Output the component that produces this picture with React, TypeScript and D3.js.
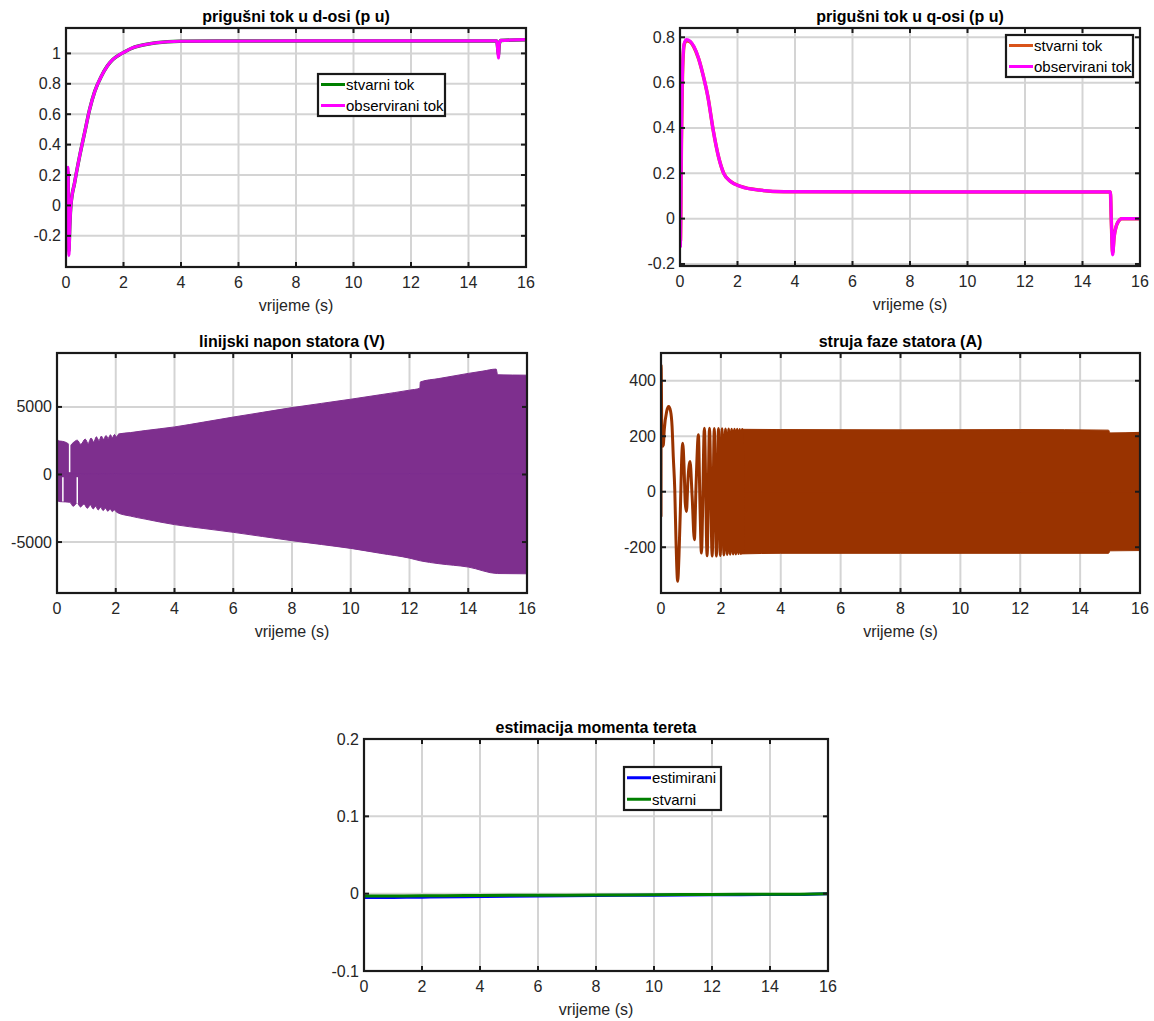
import React from "react";
import * as d3 from "d3";

// ---------- shared ----------
const xTickValues = [0, 2, 4, 6, 8, 10, 12, 14, 16];
const xLabelText = "vrijeme (s)";

// ---------- panel 1: d-axis damper flux ----------
const dFluxTime = [0, 0.03, 0.07, 0.1, 0.13, 0.17, 0.3, 0.47, 0.65, 0.82, 1.0, 1.23, 1.43, 1.63, 1.85, 2.04, 2.3, 2.56, 3.14, 3.95, 8, 14.98, 15.01, 15.04, 15.07, 15.12, 16];
const dFluxObserved = [0.0, -0.08, 0.25, -0.33, -0.15, 0.0, 0.15, 0.32, 0.48, 0.63, 0.75, 0.85, 0.915, 0.96, 0.99, 1.01, 1.035, 1.05, 1.07, 1.08, 1.082, 1.082, 1.04, 0.97, 1.06, 1.085, 1.09];
const dFluxActual = [0.0, -0.06, 0.22, -0.3, -0.14, 0.0, 0.15, 0.32, 0.48, 0.63, 0.75, 0.85, 0.915, 0.96, 0.99, 1.01, 1.035, 1.05, 1.07, 1.08, 1.082, 1.082, 1.05, 0.99, 1.06, 1.085, 1.09];
const dFluxTicks = [-0.2, 0, 0.2, 0.4, 0.6, 0.8, 1];

// ---------- panel 2: q-axis damper flux ----------
const qFluxTime = [0, 0.015, 0.05, 0.1, 0.15, 0.23, 0.35, 0.48, 0.64, 0.79, 0.97, 1.155, 1.34, 1.52, 1.77, 2.14, 2.76, 3.62, 8, 14.97, 15.0, 15.05, 15.1, 15.17, 15.25, 15.36, 16];
const qFluxObserved = [0, -0.12, 0.35, 0.7, 0.775, 0.79, 0.783, 0.76, 0.71, 0.64, 0.538, 0.39, 0.273, 0.2, 0.163, 0.141, 0.126, 0.119, 0.118, 0.118, 0.0, -0.16, -0.08, -0.035, -0.012, 0.0, 0.0];
const qFluxActual = [0, -0.1, 0.33, 0.69, 0.77, 0.785, 0.78, 0.758, 0.708, 0.64, 0.538, 0.39, 0.273, 0.2, 0.163, 0.141, 0.126, 0.119, 0.118, 0.118, 0.0, -0.15, -0.08, -0.035, -0.012, 0.0, 0.0];
const qFluxTicks = [-0.2, 0, 0.2, 0.4, 0.6, 0.8];

// ---------- panel 3: stator line voltage (envelope of a dense oscillation) ----------
const voltUpperTime = [0, 0.03, 0.12, 0.25, 0.38, 0.45, 0.56, 0.69, 0.81, 0.96, 1.06, 1.16, 1.25, 1.34, 1.43, 1.51, 1.58, 1.67, 1.74, 1.82, 1.88, 1.96, 2.02, 2.1, 2.5, 3, 4, 5, 6, 7, 8, 9, 10, 11, 12, 12.35, 12.37, 13, 14, 14.5, 14.95, 15.0, 16];
const voltUpper = [2950, 2500, 2470, 2420, 2280, 2150, 2380, 2540, 2230, 2620, 2300, 2700, 2400, 2790, 2500, 2840, 2600, 2890, 2670, 2940, 2720, 2960, 2780, 3000, 3100, 3250, 3520, 3880, 4250, 4600, 4950, 5260, 5570, 5900, 6240, 6380, 6850, 7100, 7480, 7650, 7800, 7380, 7350];
const voltLowerTime = [0, 0.02, 0.1, 0.3, 0.44, 0.55, 0.69, 0.8, 0.92, 1.03, 1.14, 1.23, 1.32, 1.4, 1.49, 1.57, 1.65, 1.73, 1.81, 1.88, 1.96, 2.03, 2.5, 3, 4, 5, 6, 7, 8, 9, 10, 11, 12, 12.37, 13, 14, 15, 16];
const voltLower = [-1200, -1940, -2010, -2030, -2060, -2354, -2109, -2403, -2183, -2501, -2256, -2550, -2354, -2624, -2428, -2673, -2501, -2722, -2550, -2746, -2624, -2795, -3080, -3300, -3710, -4000, -4280, -4590, -4900, -5180, -5470, -5830, -6190, -6390, -6600, -6850, -7330, -7350];
// visible white gaps between the slow early cycles: [time, from, to]
const voltGapTime = [0.2, 0.43, 0.69];
const voltGapFrom = [-200, 170, -200];
const voltGapTo = [-2000, 2250, -2150];
const voltTicks = [-5000, 0, 5000];

// ---------- panel 4: stator phase current ----------
const currentEarlyTime = [0, 0.004, 0.033, 0.078, 0.11, 0.19, 0.256, 0.32, 0.37, 0.41, 0.46, 0.5, 0.557, 0.6, 0.65, 0.69, 0.725, 0.77, 0.81, 0.85, 0.9, 0.97, 1.04, 1.115, 1.17, 1.25, 1.3, 1.35, 1.45, 1.54, 1.62, 1.71, 1.78, 1.85, 1.92, 1.98, 2.04, 2.1, 2.155, 2.21, 2.26, 2.31, 2.36, 2.41, 2.455, 2.5, 2.545, 2.59, 2.63, 2.67, 2.71, 2.75];
const currentEarly = [-90, 457, 163, 169, 224, 290, 307, 290, 235, 127, 7, -173, -323, -233, -53, 115, 175, 91, -41, -71, 43, 109, -17, -173, 20, 205, -40, -221, 229, -231, 229, -232, 228, -232, 228, -230, 227, -228, 226, -226, 226, -225, 225, -224, 225, -224, 225, -223, 224, -223, 224, -223];
const currentEnvTime = [2.7, 4, 8, 12, 14.95, 15.0, 16];
const currentUpper = [225, 224, 223, 224, 222, 212, 214];
const currentLower = [-224, -222, -222, -222, -222, -213, -212];
const currentTicks = [-200, 0, 200, 400];

// ---------- panel 5: load torque estimation ----------
const torqueTime = [0, 1, 2, 3.5, 5, 7, 9, 11, 13, 15, 16];
const torqueEstimated = [-0.005, -0.0048, -0.0045, -0.004, -0.0033, -0.0028, -0.0022, -0.0018, -0.0013, -0.001, 0.0];
const torqueActual = [-0.003, -0.003, -0.0028, -0.0025, -0.0022, -0.002, -0.0016, -0.0012, -0.0009, -0.0006, 0.0];
const torqueTicks = [-0.1, 0, 0.1, 0.2];

const FONT = "'Liberation Sans', Arial, Helvetica, sans-serif";
const AXIS_COLOR = "#1a1a1a";
const GRID_COLOR = "#d4d4d4";

type Box = { left: number; top: number; right: number; bottom: number };
type Sc = d3.ScaleLinear<number, number>;

interface AxesProps {
  id: string;
  box: Box;
  yDomain: [number, number];
  yTicks: number[];
  title: string;
  children: (x: Sc, y: Sc) => React.ReactNode;
}

function Axes({ id, box, yDomain, yTicks, title, children }: AxesProps) {
  const x = d3.scaleLinear().domain([0, 16]).range([box.left, box.right]);
  const y = d3.scaleLinear().domain(yDomain).range([box.bottom, box.top]);
  const tl = 5;
  const cx = (box.left + box.right) / 2;
  return (
    <g>
      <defs>
        <clipPath id={id}>
          <rect x={box.left} y={box.top} width={box.right - box.left} height={box.bottom - box.top} />
        </clipPath>
      </defs>
      <rect x={box.left} y={box.top} width={box.right - box.left} height={box.bottom - box.top} fill="#fff" />
      {xTickValues.map((t) => (
        <line key={"gx" + t} x1={x(t)} x2={x(t)} y1={box.top} y2={box.bottom} stroke={GRID_COLOR} strokeWidth={2} />
      ))}
      {yTicks.map((t) => (
        <line key={"gy" + t} x1={box.left} x2={box.right} y1={y(t)} y2={y(t)} stroke={GRID_COLOR} strokeWidth={2} />
      ))}
      <g clipPath={`url(#${id})`}>{children(x, y)}</g>
      {xTickValues.map((t) => (
        <g key={"tx" + t}>
          <line x1={x(t)} x2={x(t)} y1={box.bottom} y2={box.bottom - tl} stroke={AXIS_COLOR} strokeWidth={2} />
          <line x1={x(t)} x2={x(t)} y1={box.top} y2={box.top + tl} stroke={AXIS_COLOR} strokeWidth={2} />
          <text x={x(t)} y={box.bottom + 15.5} textAnchor="middle" dominantBaseline="central" fontSize={16} fontFamily={FONT} fill="#262626">
            {String(t)}
          </text>
        </g>
      ))}
      {yTicks.map((t) => (
        <g key={"ty" + t}>
          <line x1={box.left} x2={box.left + tl} y1={y(t)} y2={y(t)} stroke={AXIS_COLOR} strokeWidth={2} />
          <line x1={box.right} x2={box.right - tl} y1={y(t)} y2={y(t)} stroke={AXIS_COLOR} strokeWidth={2} />
          <text x={box.left - 5} y={y(t)} textAnchor="end" dominantBaseline="central" fontSize={16} fontFamily={FONT} fill="#262626">
            {String(t)}
          </text>
        </g>
      ))}
      <rect x={box.left} y={box.top} width={box.right - box.left} height={box.bottom - box.top} fill="none" stroke={AXIS_COLOR} strokeWidth={2.2} />
      <text x={cx} y={box.top - 12} textAnchor="middle" dominantBaseline="central" fontSize={16} fontWeight="bold" fontFamily={FONT} fill="#000">
        {title}
      </text>
      <text x={cx} y={box.bottom + 38} textAnchor="middle" dominantBaseline="central" fontSize={16} fontFamily={FONT} fill="#262626">
        {xLabelText}
      </text>
    </g>
  );
}

interface LegendProps {
  box: Box;
  items: { label: string; color: string }[];
}
function Legend({ box, items }: LegendProps) {
  const rowH = (box.bottom - box.top) / items.length;
  return (
    <g>
      <rect x={box.left} y={box.top} width={box.right - box.left} height={box.bottom - box.top} fill="#fff" stroke={AXIS_COLOR} strokeWidth={2.2} />
      {items.map((it, i) => {
        const cy = box.top + rowH * (i + 0.5);
        return (
          <g key={it.label}>
            <line x1={box.left + 3} x2={box.left + 27} y1={cy} y2={cy} stroke={it.color} strokeWidth={3} />
            <text x={box.left + 28} y={cy} dominantBaseline="central" fontSize={15} fontFamily={FONT} fill="#000">
              {it.label}
            </text>
          </g>
        );
      })}
    </g>
  );
}

function linePath(x: Sc, y: Sc, ts: number[], vs: number[], curve: d3.CurveFactory = d3.curveMonotoneX) {
  const pts: [number, number][] = ts.map((t, i) => [t, vs[i]]);
  return d3
    .line<[number, number]>()
    .x((d) => x(d[0]))
    .y((d) => y(d[1]))
    .curve(curve)(pts) as string;
}

// filled area between a curve and zero (used for upper & lower envelope halves)
function halfBand(x: Sc, y: Sc, ts: number[], vs: number[]) {
  const pts: [number, number][] = ts.map((t, i) => [t, vs[i]]);
  return d3
    .area<[number, number]>()
    .x((d) => x(d[0]))
    .y0(() => y(0))
    .y1((d) => y(d[1]))
    .curve(d3.curveMonotoneX)(pts) as string;
}

const MAGENTA = "#ff00ff";
const GREEN = "#008000";
const ORANGE = "#d95319";
const PURPLE = "#7e2f8e";
const BROWN = "#993300";
const BLUE = "#0000ff";

export default function App() {
  return (
    <svg width={1154} height={1021} style={{ position: "absolute", left: 0, top: 0, background: "#fff" }}>
      <rect x={0} y={0} width={1154} height={1021} fill="#fff" />

      <Axes id="c1" box={{ left: 66, top: 28, right: 526, bottom: 267 }} yDomain={[-0.405, 1.167]} yTicks={dFluxTicks} title="prigušni tok u d-osi (p u)">
        {(x, y) => (
          <>
            <path d={linePath(x, y, dFluxTime, dFluxActual)} fill="none" stroke={GREEN} strokeWidth={3.5} />
            <path d={linePath(x, y, dFluxTime, dFluxObserved)} fill="none" stroke={MAGENTA} strokeWidth={3.2} />
          </>
        )}
      </Axes>
      <Legend box={{ left: 318, top: 74, right: 445, bottom: 116 }} items={[{ label: "stvarni tok", color: GREEN }, { label: "observirani tok", color: MAGENTA }]} />

      <Axes id="c2" box={{ left: 680, top: 28, right: 1140, bottom: 266 }} yDomain={[-0.209, 0.841]} yTicks={qFluxTicks} title="prigušni tok u q-osi (p u)">
        {(x, y) => (
          <>
            <path d={linePath(x, y, qFluxTime, qFluxActual)} fill="none" stroke={ORANGE} strokeWidth={3.5} />
            <path d={linePath(x, y, qFluxTime, qFluxObserved)} fill="none" stroke={MAGENTA} strokeWidth={3.2} />
          </>
        )}
      </Axes>
      <Legend box={{ left: 1006, top: 35, right: 1133, bottom: 77 }} items={[{ label: "stvarni tok", color: ORANGE }, { label: "observirani tok", color: MAGENTA }]} />

      <Axes id="c3" box={{ left: 57, top: 353, right: 527, bottom: 593 }} yDomain={[-8770, 8990]} yTicks={voltTicks} title="linijski napon statora (V)">
        {(x, y) => (
          <>
            <path d={halfBand(x, y, voltUpperTime, voltUpper)} fill={PURPLE} stroke={PURPLE} strokeWidth={1} />
            <path d={halfBand(x, y, voltLowerTime, voltLower)} fill={PURPLE} stroke={PURPLE} strokeWidth={1} />
            {voltGapTime.map((t, i) => (
              <line key={i} x1={x(t)} x2={x(t)} y1={y(voltGapFrom[i])} y2={y(voltGapTo[i])} stroke="#fff" strokeWidth={1.5} />
            ))}
          </>
        )}
      </Axes>

      <Axes id="c4" box={{ left: 661, top: 353, right: 1140, bottom: 593 }} yDomain={[-365, 500]} yTicks={currentTicks} title="struja faze statora (A)">
        {(x, y) => (
          <>
            <path d={halfBand(x, y, currentEnvTime, currentUpper)} fill={BROWN} stroke={BROWN} strokeWidth={1} />
            <path d={halfBand(x, y, currentEnvTime, currentLower)} fill={BROWN} stroke={BROWN} strokeWidth={1} />
            <path d={linePath(x, y, currentEarlyTime, currentEarly)} fill="none" stroke={BROWN} strokeWidth={3} />
          </>
        )}
      </Axes>

      <Axes id="c5" box={{ left: 364, top: 739, right: 828, bottom: 971 }} yDomain={[-0.1, 0.2]} yTicks={torqueTicks} title="estimacija momenta tereta">
        {(x, y) => (
          <>
            <path d={linePath(x, y, torqueTime, torqueEstimated)} fill="none" stroke={BLUE} strokeWidth={3} />
            <path d={linePath(x, y, torqueTime, torqueActual)} fill="none" stroke={GREEN} strokeWidth={3} />
          </>
        )}
      </Axes>
      <Legend box={{ left: 624, top: 767, right: 721, bottom: 810 }} items={[{ label: "estimirani", color: BLUE }, { label: "stvarni", color: GREEN }]} />
    </svg>
  );
}
